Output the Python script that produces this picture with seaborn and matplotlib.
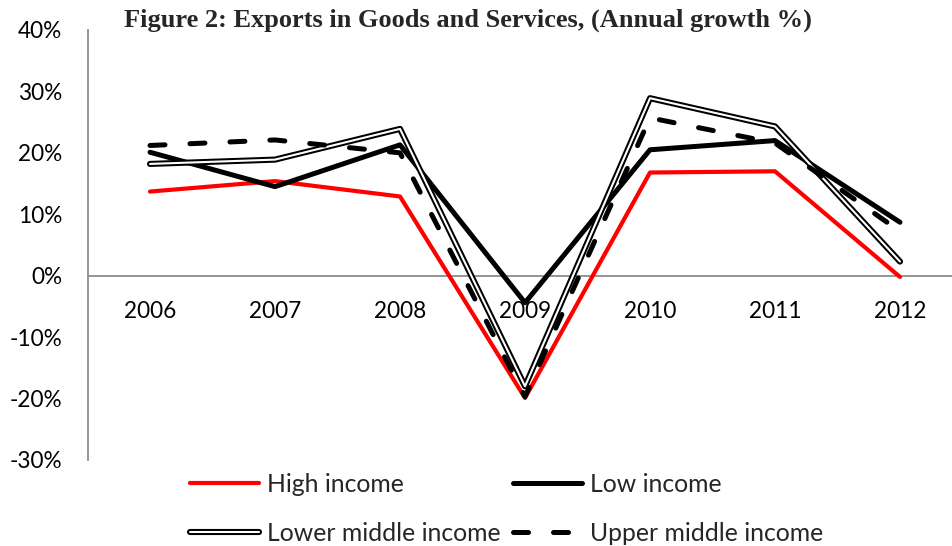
import matplotlib
matplotlib.use("Agg")
import matplotlib.pyplot as plt
import matplotlib.patheffects as pe
from matplotlib.lines import Line2D
import seaborn as sns
import pandas as pd

years = ["2006", "2007", "2008", "2009", "2010", "2011", "2012"]
high_income = [13.7, 15.4, 12.9, -19.9, 16.8, 17.0, -0.2]
low_income = [20.1, 14.5, 21.3, -4.4, 20.5, 22.0, 8.7]
lower_middle_income = [18.2, 18.9, 23.9, -18.0, 28.9, 24.3, 2.3]
upper_middle_income = [21.2, 22.1, 20.0, -19.7, 25.7, 21.6, 7.2]
y_ticks = [-30, -20, -10, 0, 10, 20, 30, 40]

title = "Figure 2: Exports in Goods and Services, (Annual growth %)"

sns.set_theme(style="white")
plt.rcParams["font.family"] = ["Lato", "DejaVu Sans"]

pos = list(range(len(years)))
df = pd.DataFrame({
    "pos": pos,
    "High income": high_income,
    "Low income": low_income,
    "Lower middle income": lower_middle_income,
    "Upper middle income": upper_middle_income,
})

fig = plt.figure(figsize=(9.52, 5.46), dpi=100)
ax = fig.add_axes([87.5 / 952, 86 / 546, 875 / 952, 430 / 546])

# High income: plain red line
sns.lineplot(data=df, x="pos", y="High income", ax=ax, color="#ff0000",
             linewidth=3.0, legend=False, zorder=3)
# Low income: heavy black line
sns.lineplot(data=df, x="pos", y="Low income", ax=ax, color="black",
             linewidth=3.6, legend=False, zorder=4)
# Lower middle income: double line (black outline, white core)
double_fx = [pe.Stroke(linewidth=4.4, foreground="black"), pe.Normal()]
sns.lineplot(data=df, x="pos", y="Lower middle income", ax=ax, color="white",
             linewidth=1.5, legend=False, zorder=5)
ax.lines[-1].set_path_effects(double_fx)
# Upper middle income: dashed black line
sns.lineplot(data=df, x="pos", y="Upper middle income", ax=ax, color="black",
             linewidth=3.6, legend=False, zorder=6)
dash_line = ax.lines[-1]
dash_line.set_dashes((3, 5))
dash_line.set_dash_capstyle("round")

ax.set_xlim(-0.5, len(years) - 0.5)
ax.set_ylim(-30, 40)
ax.set_yticks(y_ticks)
ax.set_yticklabels([f"{t}%" for t in y_ticks])
ax.set_xticks(pos)
ax.set_xticklabels(years)
ax.set_xlabel("")
ax.set_ylabel("")

for s in ["top", "right"]:
    ax.spines[s].set_visible(False)
ax.spines["left"].set_color("#8c8c8c")
ax.spines["left"].set_linewidth(1.3)
ax.spines["bottom"].set_position(("data", 0))
ax.spines["bottom"].set_color("#8c8c8c")
ax.spines["bottom"].set_linewidth(1.3)
ax.spines["bottom"].set_zorder(1)

ax.tick_params(axis="y", length=0, pad=18, labelsize=16.3, labelcolor="black")
ax.tick_params(axis="x", length=0, pad=18, labelsize=16.3, labelcolor="black")

fig.text(468 / 952, 1 - 27 / 546, title, ha="center", va="baseline",
         fontsize=19, fontweight="bold", family=["Liberation Serif", "DejaVu Serif"])

handles = [
    Line2D([], [], color="#ff0000", linewidth=3.0),
    Line2D([], [], color="black", linewidth=3.6),
    Line2D([], [], color="white", linewidth=1.5, path_effects=double_fx),
    Line2D([], [], color="black", linewidth=3.6, dashes=(3, 5),
           dash_capstyle="round"),
]
labels = ["High income", "Low income", "Lower middle income", "Upper middle income"]
order = [0, 2, 1, 3]
leg = fig.legend([handles[i] for i in order], [labels[i] for i in order],
                 ncol=2, loc="upper left", bbox_to_anchor=(190 / 952, 1 - 473 / 546),
                 frameon=False, fontsize=17.8, handlelength=2.8, handletextpad=0.32,
                 columnspacing=0.49, labelspacing=1.04, borderpad=0, borderaxespad=0)

fig.savefig("out.png", dpi=100)
